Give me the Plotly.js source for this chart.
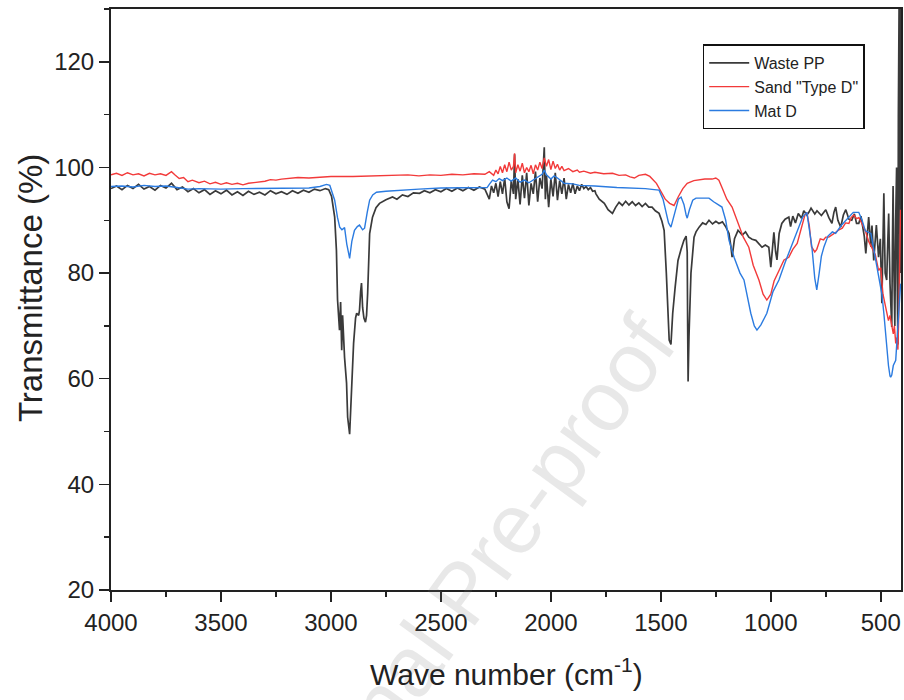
<!DOCTYPE html>
<html>
<head>
<meta charset="utf-8">
<script src="https://cdn.plot.ly/plotly-3.0.1.min.js"></script>
<style>html,body{margin:0;padding:0;background:#fff;}#chart{width:904px;height:700px;}</style>
</head>
<body>
<div id="chart"></div>
<script>
// ---- Data ----
const seriesNames = ['Waste PP', 'Sand "Type D"', 'Mat D'];

const wastePP_x = [4000,3975,3950,3925,3900,3875,3850,3825,3800,3775,3750,3725,3700,3675,3650,3625,3600,3575,3550,3525,3500,3475,3450,3425,3400,3375,3350,3325,3300,3275,3250,3225,3200,3175,3150,3125,3100,3075,3050,3025,3010,
2997,2983,2975,2970,2965,2961,2956,2951,2947,2938,2929,2924,2915,2910,2906,2897,2888,2883,2874,2870,2865,2861,2856,2850,2843,2838,2833,2828,2824,2811,2795,2779,2750,2720,2700,2675,2650,2625,2597,2575,2550,2525,2500,2475,2450,2425,2400,2375,2350,2325,2300,
2280,2270,2260,2250,2240,2230,2220,2210,2200,2190,2180,2170,2165,2160,2150,2140,2130,2120,2110,2100,2090,2080,2070,2060,2050,2040,2030,2025,2020,2010,2000,1990,1980,1970,1960,1950,1940,1930,1920,1910,1900,1890,1880,1870,1860,1850,1840,1830,1820,1810,1800,
1795,1780,1757,1740,1720,1705,1690,1675,1660,1645,1630,1615,1600,1585,1570,1555,1540,1525,1508,1495,1485,1475,1466,1462,1454,1450,1446,1435,1422,1408,1395,1385,1380,1378,1376,1372,1363,1349,1340,1326,1310,1295,1281,1265,1250,1236,1220,1204,1190,1181,1176,1165,1149,1130,1115,1100,1085,1068,1055,1040,1025,1009,1000,990,986,978,972,962,950,935,918,910,900,888,875,860,850,836,827,817,800,790,770,750,736,722,713,705,695,682,670,659,645,632,620,610,600,590,575,568,560,555,545,540,532,525,520,510,502,495,490,486,480,473,468,464,458,454,450,447,444,440,436,432,428,425,422,420,416,412,408,404];
const wastePP_y = [96.0,96.5,95.8,96.6,96.0,96.8,95.9,96.4,95.7,96.6,96.1,97.0,95.8,96.3,95.4,96.0,95.2,95.8,94.9,95.6,95.0,95.7,94.8,95.4,94.7,95.5,94.9,95.3,94.8,95.6,95.0,95.4,94.9,95.6,95.1,95.7,95.3,95.9,95.6,96.0,95.8,
94.5,90.6,84.3,75.0,72.0,69.2,74.5,65.4,72.0,64.0,59.2,52.7,49.5,55.0,60.3,66.7,71.5,72.4,72.0,73.0,76.5,78.1,73.5,71.5,70.7,72.0,76.2,83.0,87.5,90.6,92.4,93.2,93.9,94.4,94.0,94.8,94.5,95.2,95.1,95.6,95.2,95.8,95.4,96.0,95.5,96.1,95.6,96.2,95.7,96.3,95.9,
94.0,96.5,95.2,97.0,94.5,97.3,95.0,98.0,93.5,92.2,97.5,95.0,102.5,94.0,97.8,93.0,98.5,94.2,99.0,92.8,97.0,95.0,99.2,93.5,98.0,96.0,103.8,94.0,98.5,92.5,97.8,94.5,99.0,93.8,97.5,95.0,98.0,94.0,96.8,95.2,97.0,95.0,96.5,95.6,96.8,96.0,96.4,95.8,96.2,95.5,95.6,
95.0,94.0,93.2,92.0,91.3,92.5,93.4,92.8,93.6,92.9,93.5,92.8,93.3,92.6,93.2,92.5,92.5,91.8,91.3,89.8,88.1,80.0,70.0,67.3,66.5,70.0,72.4,77.3,82.4,84.5,86.2,87.0,84.0,70.0,59.5,68.0,80.0,86.8,87.8,88.7,89.5,89.2,90.0,89.3,89.8,89.4,89.7,88.7,87.5,84.9,83.0,86.5,88.1,87.2,87.8,86.8,86.4,86.2,85.5,84.9,85.3,84.9,81.1,85.0,87.7,84.0,82.5,87.5,89.4,90.2,90.6,88.8,90.8,89.5,91.3,90.4,91.8,91.0,91.5,92.3,91.2,91.8,90.9,92.0,90.5,89.4,91.5,92.5,90.0,88.7,91.0,92.0,90.2,90.0,91.2,89.4,89.4,90.8,87.0,83.7,88.5,90.6,85.0,89.0,82.4,87.5,89.1,83.0,86.5,74.3,88.0,95.1,80.0,78.7,86.0,91.3,78.0,73.0,69.8,85.0,96.5,80.0,70.0,90.0,100.0,78.0,66.5,110.0,135.0,80.0,140.0,68.0];

const sand_x = [4000,3975,3950,3925,3900,3875,3850,3825,3800,3775,3750,3725,3710,3690,3670,3650,3630,3600,3575,3550,3525,3500,3475,3450,3425,3400,3375,3350,3325,3300,3275,3250,3225,3200,3150,3100,3050,3000,2900,2800,2700,2650,2600,2550,2500,2450,2400,2350,2300,
2280,2260,2250,2240,2230,2220,2210,2200,2190,2180,2170,2165,2160,2150,2140,2130,2120,2110,2100,2090,2080,2070,2060,2050,2040,2030,2020,2010,2000,1990,1980,1970,1960,1950,1940,1920,1900,1880,1870,1850,1820,1800,1760,1720,1690,1660,1640,1620,1600,1570,1550,1520,1500,1480,1460,1440,1420,1400,1380,1350,1300,1267,1250,1236,1220,1200,1176,1150,1125,1100,1080,1054,1035,1018,1000,985,963,940,918,900,880,860,845,836,825,815,800,791,775,760,750,736,720,705,690,675,660,645,635,623,610,600,586,570,555,541,525,510,500,490,480,473,465,458,450,443,438,432,427,422,418,414,410];
const sand_y = [98.6,98.9,98.5,99.0,98.6,98.8,98.4,98.9,98.6,98.8,98.5,99.2,98.6,97.9,98.1,97.3,97.6,97.1,97.4,96.9,97.2,96.8,97.1,96.8,97.0,96.7,97.0,97.1,97.3,97.4,97.7,97.6,97.8,97.9,98.1,98.0,98.2,98.3,98.3,98.4,98.5,98.6,98.4,98.6,98.5,98.7,98.6,98.8,98.7,
99.2,98.5,99.5,98.8,100.2,99.0,100.5,99.2,101.0,99.5,100.2,102.7,99.0,100.5,99.3,100.8,99.0,100.0,99.2,100.4,98.8,100.5,99.5,101.0,99.8,101.8,100.2,101.5,99.6,101.2,99.8,100.6,99.5,100.2,99.4,99.8,99.2,99.5,99.1,99.3,98.9,99.1,98.8,98.9,98.5,98.6,98.2,98.0,98.5,98.7,98.3,97.0,95.5,94.0,93.2,92.8,94.5,96.0,97.0,97.5,97.8,97.8,98.0,97.6,96.0,94.0,92.5,89.5,86.8,84.9,81.5,78.7,76.0,74.9,76.0,78.5,80.5,82.5,83.0,84.5,85.6,89.0,91.0,91.5,89.0,85.0,84.0,84.5,86.5,86.3,86.8,86.8,87.2,87.7,88.2,88.5,89.5,89.4,90.5,91.0,90.3,90.5,89.4,88.0,86.0,84.9,83.5,80.5,81.0,76.0,74.0,72.4,71.0,72.0,69.8,68.5,70.0,66.7,67.8,65.5,72.0,85.0,92.0];

const matD_x = [4000,3950,3900,3850,3800,3750,3700,3650,3600,3500,3400,3300,3200,3100,3050,3020,3005,2995,2983,2970,2960,2950,2938,2928,2915,2905,2893,2880,2870,2856,2847,2835,2824,2810,2793,2750,2688,2600,2500,2384,2290,
2280,2265,2250,2235,2220,2200,2180,2160,2140,2120,2100,2080,2060,2040,2030,2020,2000,1985,1970,1960,1948,1940,1900,1870,1800,1700,1600,1570,1530,1508,1490,1475,1465,1454,1440,1420,1408,1395,1385,1380,1370,1355,1340,1310,1281,1260,1235,1222,1205,1190,1167,1140,1122,1091,1075,1063,1045,1018,990,963,935,909,890,875,855,836,825,813,800,791,780,770,758,740,720,705,680,659,640,625,614,600,585,570,545,530,510,495,486,478,472,465,458,455,450,443,432,425,418,410];
const matD_y = [96.4,96.5,96.3,96.6,96.4,96.5,96.2,95.9,96.0,95.9,96.0,96.0,96.0,96.1,96.4,96.8,96.6,95.5,93.8,90.5,88.7,88.2,88.6,85.5,82.8,86.0,88.1,88.8,89.1,88.2,88.5,91.5,93.8,94.8,95.3,95.5,95.7,95.9,96.1,96.2,96.2,
96.8,97.6,97.3,97.9,97.5,98.0,97.4,98.0,97.2,97.6,97.1,97.6,98.1,98.7,99.5,98.6,97.8,98.4,98.0,97.6,97.3,97.0,96.9,96.6,96.5,96.2,96.1,96.0,95.8,95.7,94.0,91.0,89.5,88.7,91.0,94.0,94.4,93.0,91.0,90.4,92.0,93.8,94.2,94.2,94.2,93.5,92.8,92.5,90.0,86.2,83.0,80.0,78.7,72.4,70.0,69.2,70.2,72.4,76.5,78.7,82.0,84.9,87.0,88.7,90.6,91.5,88.0,84.9,79.0,76.8,80.0,83.2,85.0,87.0,87.8,87.5,89.0,90.0,91.0,91.5,91.5,91.5,90.0,88.0,87.5,84.0,78.7,76.0,72.4,68.0,66.0,62.5,60.5,60.3,60.7,62.5,63.5,68.0,72.4,78.0];

const xTickVals = [4000,3500,3000,2500,2000,1500,1000,500];
const yTickVals = [20,40,60,80,100,120];

// ---- Chart ----
const colors = ['#3a3a3a', '#f23a3a', '#2b7be0'];
const widths = [1.7, 1.4, 1.4];
const traces = [
  {x: wastePP_x, y: wastePP_y, name: seriesNames[0]},
  {x: sand_x, y: sand_y, name: seriesNames[1]},
  {x: matD_x, y: matD_y, name: seriesNames[2]}
].map((t, i) => Object.assign(t, {type: 'scatter', mode: 'lines', line: {color: colors[i], width: widths[i]}}));

const fam = '"Liberation Sans", Arial, sans-serif';
const tickFont = {family: fam, size: 24, color: '#222'};

const layout = {
  width: 904, height: 700,
  margin: {l: 111, r: 3, t: 9, b: 110},
  paper_bgcolor: '#fff', plot_bgcolor: '#fff',
  showlegend: true,
  legend: {
    x: 0.749, y: 0.939, xanchor: 'left', yanchor: 'top',
    bgcolor: '#fff', bordercolor: '#111', borderwidth: 1.5,
    font: {family: fam, size: 16, color: '#222'},
    itemwidth: 40
  },
  xaxis: {
    range: [4000, 408], autorange: false,
    tickvals: xTickVals, ticktext: xTickVals.map(String),
    ticks: 'outside', ticklen: 10, tickwidth: 1.5, tickcolor: '#222',
    minor: {dtick: 250, tick0: 0, ticks: 'outside', ticklen: 5, tickwidth: 1.5, tickcolor: '#222'},
    showline: true, linecolor: '#222', linewidth: 2, mirror: true,
    showgrid: false, zeroline: false,
    tickfont: tickFont
  },
  yaxis: {
    range: [20, 130], autorange: false,
    tickvals: yTickVals, ticktext: yTickVals.map(String),
    ticks: 'outside', ticklen: 10, tickwidth: 1.5, tickcolor: '#222',
    minor: {dtick: 10, tick0: 0, ticks: 'outside', ticklen: 5, tickwidth: 1.5, tickcolor: '#222'},
    showline: true, linecolor: '#222', linewidth: 2, mirror: true,
    showgrid: false, zeroline: false,
    tickfont: tickFont
  },
  annotations: [
    {
      text: 'Journal Pre-proof', xref: 'paper', yref: 'paper',
      x: 0.445, y: -0.005, xanchor: 'center', yanchor: 'middle',
      textangle: -54, showarrow: false,
      font: {family: fam, size: 85, color: 'rgba(120,120,120,0.17)'}
    },
    {
      text: 'Wave number (cm<sup>-1</sup>)', xref: 'paper', yref: 'paper',
      x: 0.5, y: -0.141, xanchor: 'center', yanchor: 'middle', showarrow: false,
      font: {family: fam, size: 30, color: '#222'}
    },
    {
      text: 'Transmittance (%)', xref: 'paper', yref: 'paper',
      x: -0.101, y: 0.52, xanchor: 'center', yanchor: 'middle', showarrow: false,
      textangle: -90,
      font: {family: fam, size: 33, color: '#222'}
    }
  ]
};

Plotly.newPlot('chart', traces, layout, {displayModeBar: false, staticPlot: true});
</script>
</body>
</html>
